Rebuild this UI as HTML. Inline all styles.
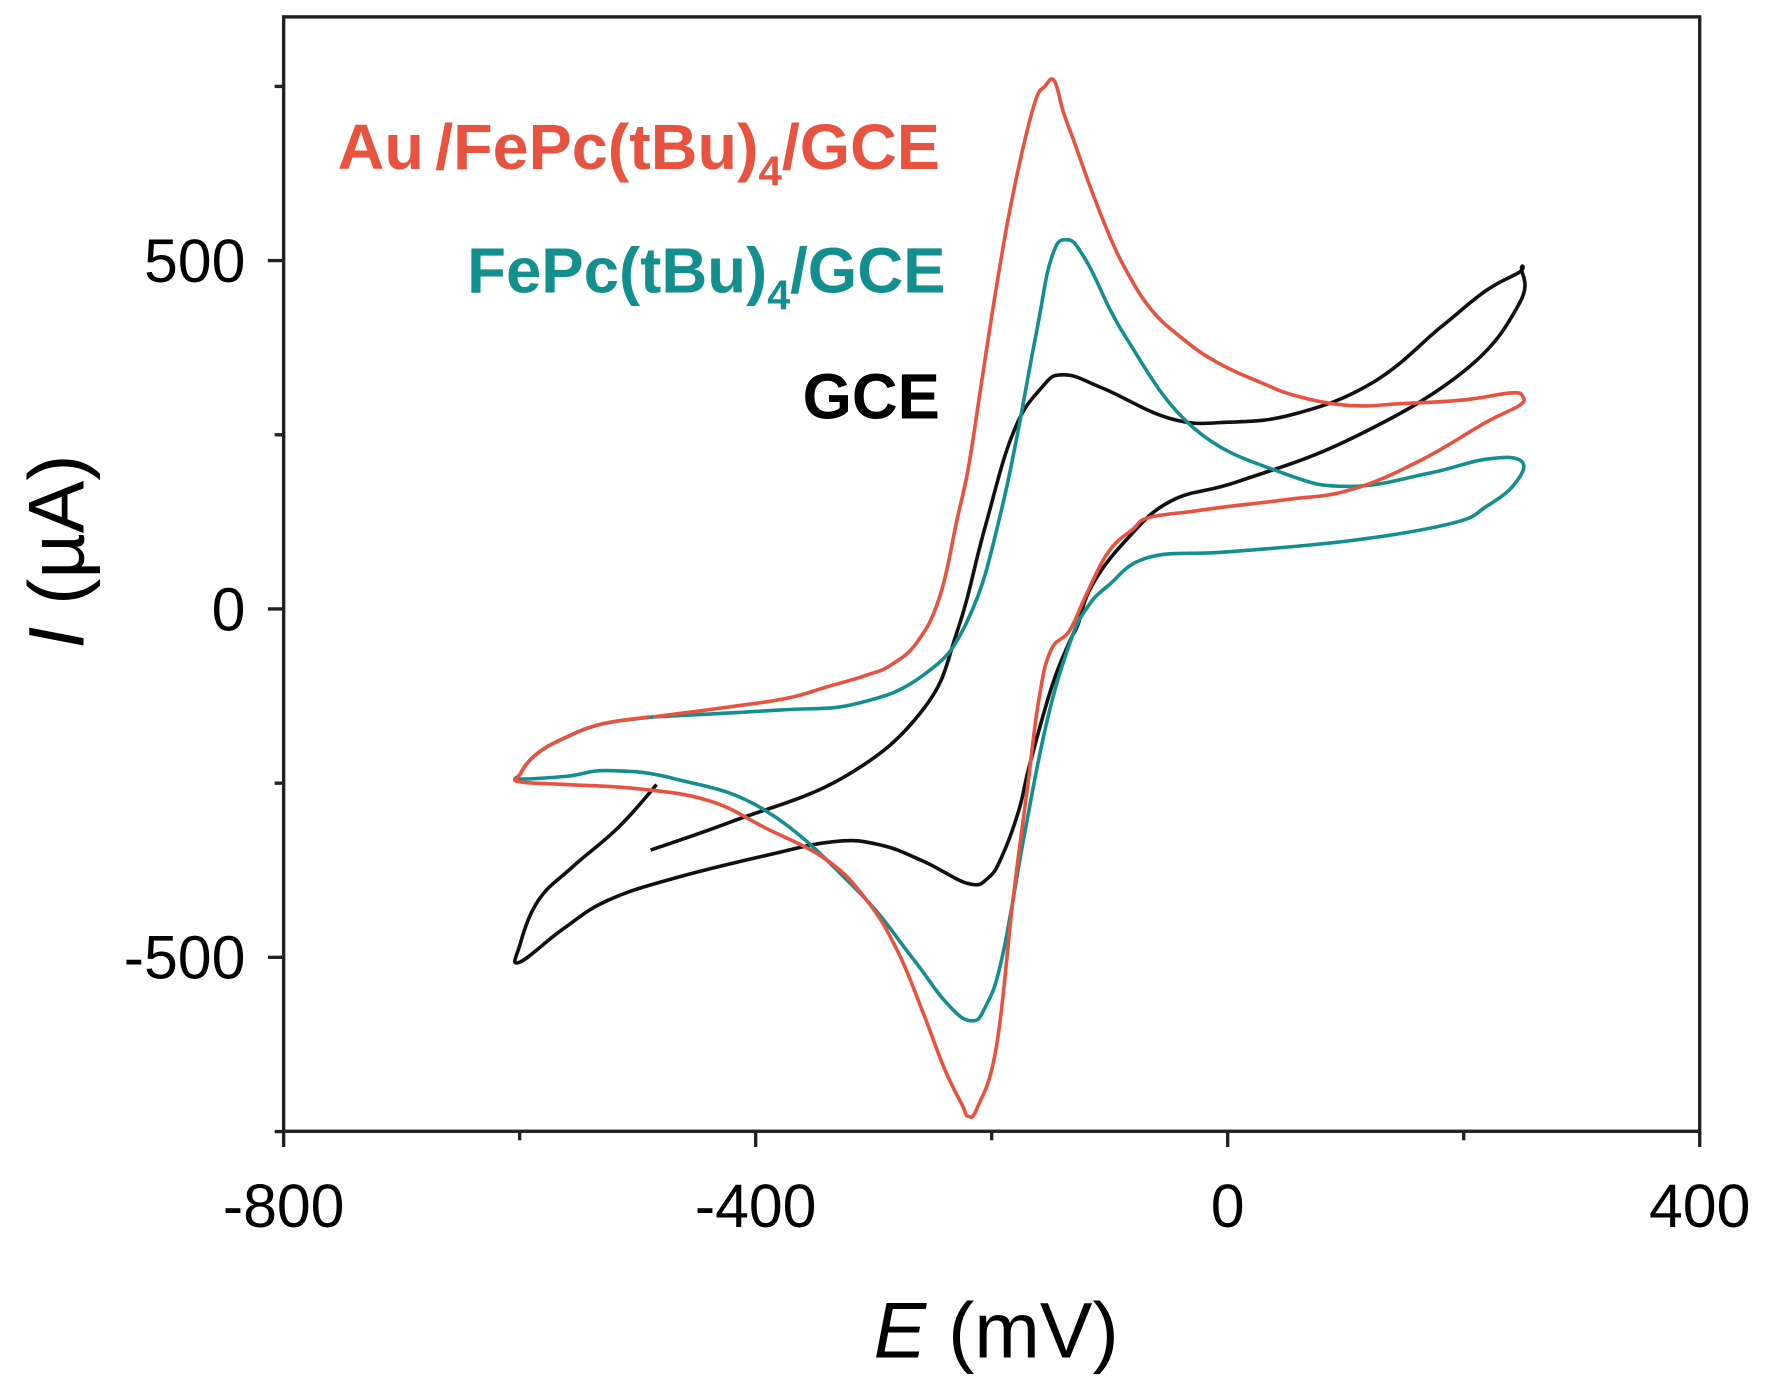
<!DOCTYPE html>
<html><head><meta charset="utf-8"><style>
html,body{margin:0;padding:0;background:#fff;}
svg{display:block;font-family:"Liberation Sans",Arial,sans-serif;}
</style></head><body>
<svg id="chart" width="1765" height="1394" viewBox="0 0 1568 1238.4" xmlns="http://www.w3.org/2000/svg">
<rect x="0" y="0" width="1568" height="1238.4" fill="#fff"/>
<g id="axes"></g>
<g id="series"></g>
<text x="300" y="150" font-size="57" font-weight="bold" fill="#e8533f" textLength="535" lengthAdjust="spacingAndGlyphs">Au<tspan dx="10">/FePc(tBu)</tspan><tspan font-size="37" dy="15">4</tspan><tspan dy="-15">/GCE</tspan></text>
<text x="415" y="260" font-size="57" font-weight="bold" fill="#148f8f" textLength="425" lengthAdjust="spacingAndGlyphs">FePc(tBu)<tspan font-size="37" dy="15">4</tspan><tspan dy="-15">/GCE</tspan></text>
<text x="713" y="372" font-size="57" font-weight="bold" fill="#000" textLength="122" lengthAdjust="spacingAndGlyphs">GCE</text>
<text x="885" y="1206" font-size="70" text-anchor="middle"><tspan font-style="italic">E</tspan> (mV)</text>
<text transform="translate(74,490) rotate(-90)" font-size="70" text-anchor="middle"><tspan font-style="italic">I</tspan> (µA)</text>
</svg>
<script>
const xTicks = [-800, -400, 0, 400];
const xMinor = [-600, -200, 200];
const yTicks = [-500, 0, 500];
const yMinor = [-750, -250, 250, 750];
const redE = [-490,-530,-563,-587,-600,-600,-560,-500,-440,-392,-340,-306,-280,-258,-240,-225,-220,-212,-196,-182,-170,-160,-150,-134,-120,-101,-80,-67,-30,0,50,104,162,219,247,250,240,200,150,104,60,28,-10,-39,-65,-86,-100,-115,-130,-139,-147,-155,-163,-175,-187,-200,-210,-220,-229,-244,-263,-285,-306,-340,-373,-420,-487];
const redI = [-155,-165,-186,-210,-238,-248,-252,-258,-275,-314,-360,-418,-490,-580,-660,-712,-728,-715,-628,-418,-260,-130,-60,-31,20,82,115,131,140,147,157,171,212,268,292,305,310,300,295,292,305,325,355,389,430,486,535,599,670,712,758,750,729,650,551,420,309,200,131,18,-47,-80,-95,-112,-128,-140,-155];
const tealE = [-487,-530,-563,-587,-600,-600,-560,-524,-468,-392,-315,-268,-239,-218,-205,-191,-172,-153,-134,-120,-101,-67,0,104,190,219,243,249,219,171,104,47,-29,-86,-120,-137,-150,-163,-191,-220,-258,-315,-380,-487];
const tealI = [-155,-165,-186,-210,-238,-244,-240,-232,-244,-289,-402,-499,-564,-591,-570,-499,-321,-160,-50,0,34,74,82,98,123,147,179,212,215,195,176,195,260,389,500,530,500,389,147,-15,-95,-136,-145,-155];
const blackE = [-489,-420,-325,-258,-229,-206,-182,-158,-139,-106,-48,0,57,123,181,219,247,249,247,200,104,9,-48,-86,-115,-127,-134,-149,-168,-177,-191,-203,-220,-258,-296,-334,-392,-468,-525,-563,-600,-600,-584,-555,-516,-484];
const blackI = [-346,-305,-241,-144,-31,115,252,317,336,317,273,268,280,325,405,457,483,488,438,341,244,183,155,99,34,-23,-47,-111,-225,-289,-354,-386,-394,-362,-338,-334,-354,-386,-418,-459,-507,-483,-418,-370,-313,-252];

const X0=252, X1=1510, Y0=15, Y1=1005;
const xs = e => X0 + (e + 800) / 1200 * (X1 - X0);
const ys = i => 541 - i * 0.619;
const NS = "http://www.w3.org/2000/svg";
function mk(tag, attrs, parent){ const el=document.createElementNS(NS,tag); for(const k in attrs) el.setAttribute(k,attrs[k]); parent.appendChild(el); return el; }
const axes = document.getElementById('axes');
const frame = mk('rect',{x:X0,y:Y0,width:X1-X0,height:Y1-Y0,fill:'none',stroke:'#222','stroke-width':3},axes);


xTicks.forEach(v=>{
  const t=mk('line',{x1:xs(v),x2:xs(v),y1:Y1,y2:Y1+14,stroke:'#222','stroke-width':3},axes);
  
  
  const l=mk('text',{x:xs(v),y:1090,'font-size':54,'text-anchor':'middle',fill:'#000'},axes);
  l.textContent=v;
  
  
});
xMinor.forEach(v=>{
  const t=mk('line',{x1:xs(v),x2:xs(v),y1:Y1,y2:Y1+8,stroke:'#222','stroke-width':3},axes);
  
  
});
yTicks.forEach(v=>{
  const t=mk('line',{x1:X0-14,x2:X0,y1:ys(v),y2:ys(v),stroke:'#222','stroke-width':3},axes);
  
  
  const l=mk('text',{x:X0-34,y:ys(v)+19,'font-size':54,'text-anchor':'end',fill:'#000'},axes);
  l.textContent=v;
  
  
});
yMinor.forEach(v=>{
  const t=mk('line',{x1:X0-8,x2:X0,y1:ys(v),y2:ys(v),stroke:'#222','stroke-width':3},axes);
  
  
});
const sg=document.getElementById('series');
function smooth(P){
  let d='M'+P[0][0].toFixed(1)+','+P[0][1].toFixed(1);
  for(let k=0;k<P.length-1;k++){
    const p0=P[Math.max(k-1,0)],p1=P[k],p2=P[k+1],p3=P[Math.min(k+2,P.length-1)];
    const t=0.2;
    const c1=[p1[0]+(p2[0]-p0[0])*t,p1[1]+(p2[1]-p0[1])*t];
    const c2=[p2[0]-(p3[0]-p1[0])*t,p2[1]-(p3[1]-p1[1])*t];
    d+=' C'+c1.map(v=>v.toFixed(1)).join(',')+' '+c2.map(v=>v.toFixed(1)).join(',')+' '+p2[0].toFixed(1)+','+p2[1].toFixed(1);
  }
  return d;
}
function draw(E,I,color,name){
  const P=E.map((e,k)=>[xs(e),ys(I[k])]);
  const p=mk('path',{d:smooth(P),fill:'none',stroke:color,'stroke-width':3.2,'stroke-linejoin':'round'},sg);
  
  
}
draw(blackE,blackI,'#111','gce-curve');
draw(tealE,tealI,'#148f8f','fepc-gce-curve');
draw(redE,redI,'#e8533f','au-fepc-gce-curve');
</script>
</body></html>
